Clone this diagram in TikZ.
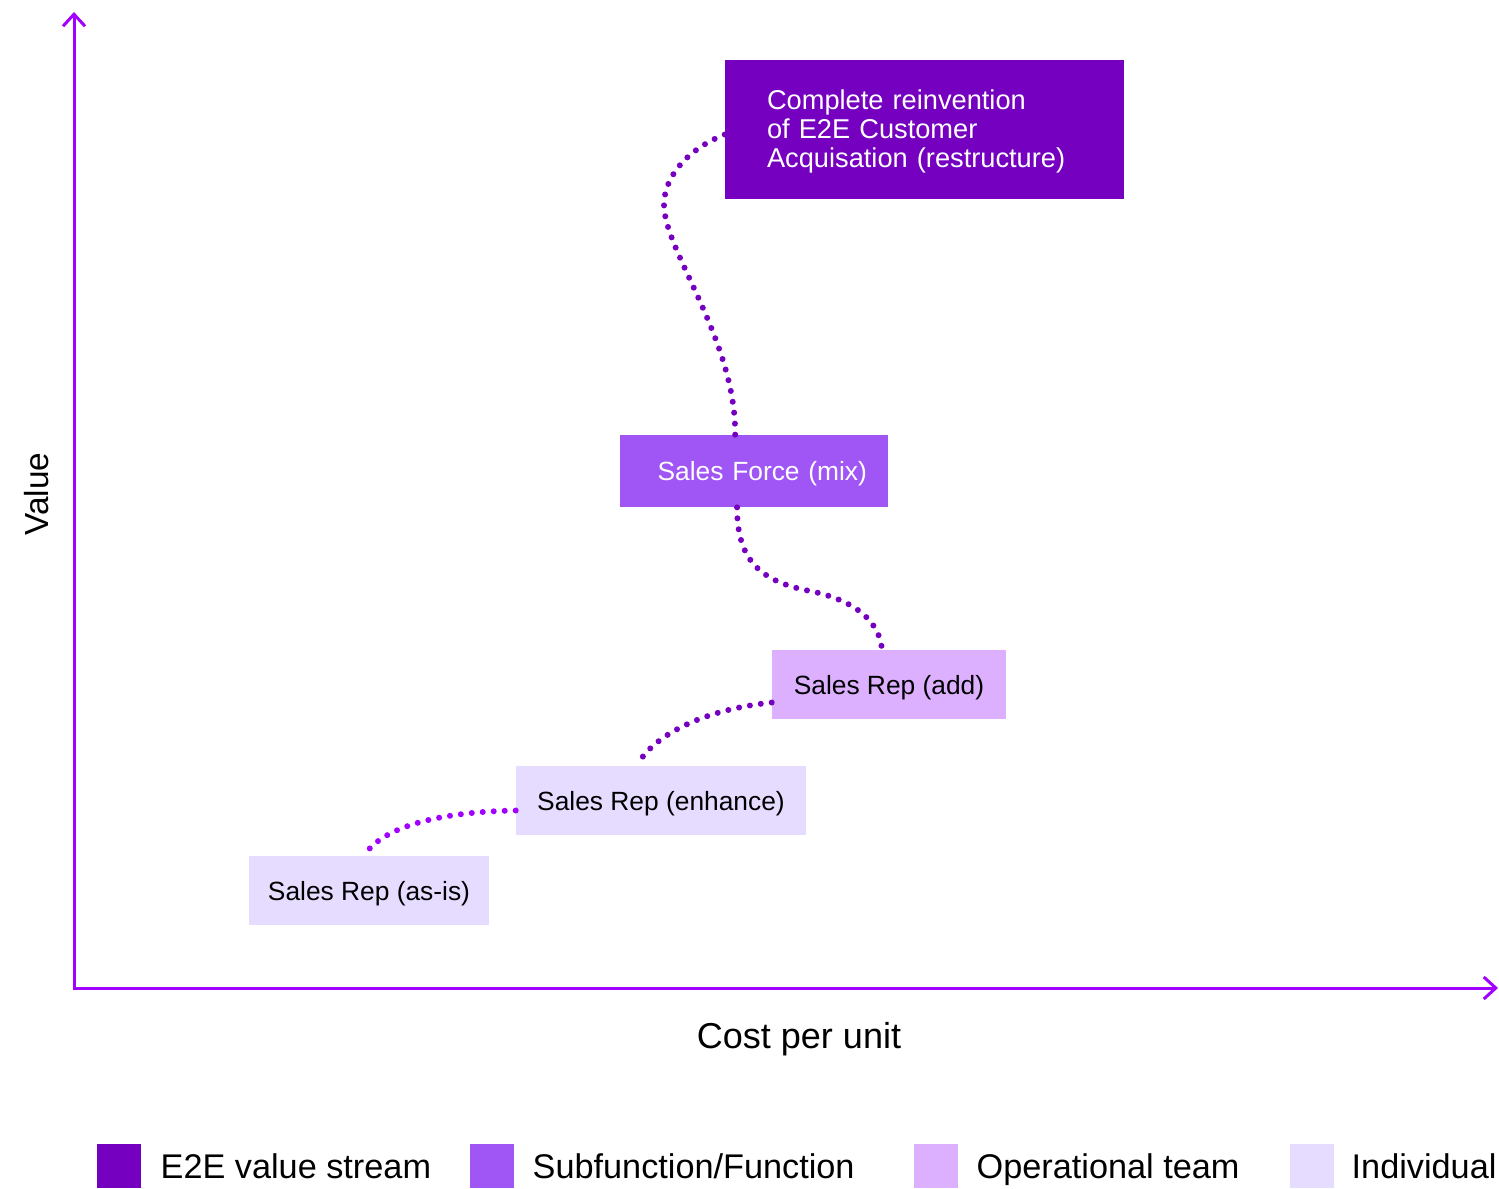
\documentclass[tikz,border=0pt]{standalone}
\usepackage{fontspec}
\setmainfont{Liberation Sans}
\usepackage{tikz}
\usetikzlibrary{arrows.meta,positioning,calc}
\definecolor{e2epurple}{RGB}{117,0,192}
\definecolor{subfnpurple}{RGB}{160,85,245}
\definecolor{opteamlilac}{RGB}{220,175,255}
\definecolor{indivlilac}{RGB}{230,220,255}
\definecolor{axispurple}{RGB}{161,0,255}

\begin{document}
\begin{tikzpicture}[
  x=0.02cm,y=-0.02cm,
  box/.style={rectangle,inner ysep=0pt,font=\fontsize{15pt}{16.5pt}\selectfont},
  onerow/.style={box,text depth=0pt},
  axis/.style={axispurple,line width=0.06cm,
    {Straight Barb[length=0.24cm,width=0.44cm]}-{Straight Barb[length=0.24cm,width=0.44cm]}},
  dots/.style={e2epurple,line width=0.12cm,line cap=round,dash pattern=on 0pt off 0.22cm},
  axlab/.style={font=\fontsize{19pt}{22pt}\selectfont},
  key/.style={rectangle,minimum size=0.88cm,inner sep=0pt},
  keylab/.style={font=\fontsize{19.5pt}{22pt}\selectfont,inner sep=0pt,text height=14pt,text depth=0pt,anchor=west}
]
\useasboundingbox (0,0) rectangle (1499,1188);
\coordinate (ytop) at (74,12);
\coordinate (origin) at (74,988);
\coordinate (xend) at (1498,988);
\draw[axis] (ytop) -- (origin) -- (xend);
\node[axlab,rotate=90] (yname) at (37,494) {Value};
\node[axlab,font=\fontsize{20.5pt}{22pt}\selectfont] (xname) at (799,1039) {Cost per unit};

\node[box,fill=e2epurple,text=white,minimum height=2.78cm,text width=6.3cm,inner xsep=0.84cm,align=left,
  font=\fontsize{15.5pt}{16.5pt}\selectfont] (e2e) at (924.5,129.5)
  {\rule{0pt}{13pt}Complete reinvention\\of E2E Customer\\Acquisation (restructure)};
\node[onerow,fill=subfnpurple,text=white,minimum height=1.44cm,text width=4.52cm,inner xsep=0.42cm,align=right] (force) at (754,471) {Sales Force (mix)};
\node[onerow,fill=opteamlilac,minimum height=1.38cm,minimum width=4.68cm] (add) at (889,684.5) {Sales Rep (add)};
\node[onerow,fill=indivlilac,minimum height=1.38cm,minimum width=5.8cm] (enhance) at (661,800.5) {Sales Rep (enhance)};
\node[onerow,fill=indivlilac,minimum height=1.38cm,minimum width=4.8cm] (asis) at (369,890.5) {Sales Rep (as-is)};

\draw[dots] ([yshift=-0.1cm]e2e.west) .. controls (690,148) and (664,175) .. (664,205)
  .. controls (664,250) and (736,340) .. ($(force.north west)!0.43!(force.north east)$);
\draw[dots] ($(force.south west)!0.437!(force.south east)$) .. controls (737,560) and (760,580) .. (805,590)
  .. controls (860,600) and (880,625) .. ($(add.north west)!0.47!(add.north east)$);
\draw[dots] ([yshift=-0.36cm]add.west) .. controls (700,710) and (652,737) .. ($(enhance.north west)!0.417!(enhance.north east)$);
\draw[dots,axispurple] ([yshift=-0.2cm]enhance.west) .. controls (430,812) and (380,830) .. ($(asis.north west)!0.48!(asis.north east)$);

\node[key,fill=e2epurple] (key1) at (119,1166) {};
\node[keylab,right=0.38cm of key1] (lab1) {E2E value stream};
\node[key,fill=subfnpurple] (key2) at (492,1166) {};
\node[keylab,right=0.36cm of key2] (lab2) {Subfunction/Function};
\node[key,fill=opteamlilac] (key3) at (936,1166) {};
\node[keylab,right=0.36cm of key3] (lab3) {Operational team};
\node[key,fill=indivlilac] (key4) at (1312,1166) {};
\node[keylab,right=0.34cm of key4] (lab4) {Individual};
\end{tikzpicture}
\end{document}
